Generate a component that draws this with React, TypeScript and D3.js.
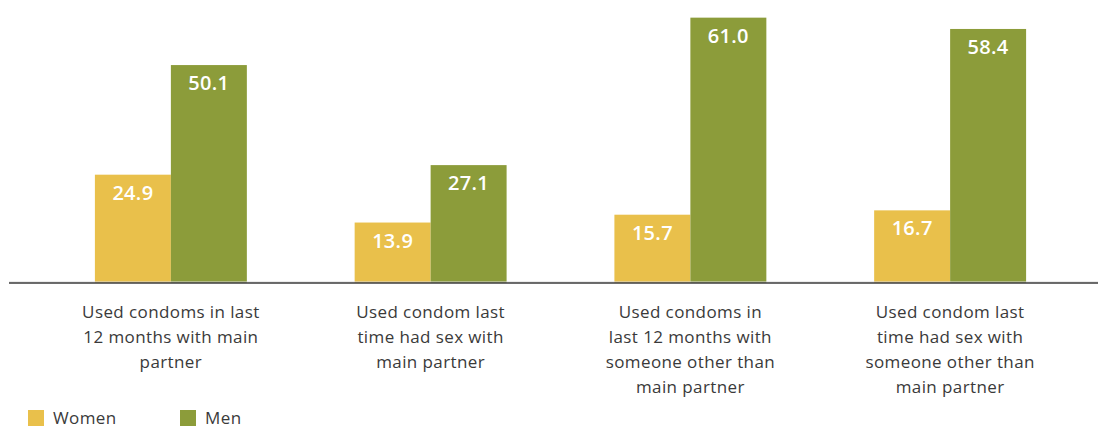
import * as d3 from "d3";

const categories = [
  ["Used condoms in last", "12 months with main", "partner"],
  ["Used condom last", "time had sex with", "main partner"],
  ["Used condoms in", "last 12 months with", "someone other than", "main partner"],
  ["Used condom last", "time had sex with", "someone other than", "main partner"],
];
const women = [24.9, 13.9, 15.7, 16.7];
const men = [50.1, 27.1, 61.0, 58.4];
const seriesNames = ["Women", "Men"];

const WIDTH = 1099;
const HEIGHT = 428;
const BASELINE = 283;
const COLORS = ["#E9C04B", "#8C9C3A"];
const FONT = "'Open Sans', Lato, sans-serif";

export default function App() {
  const x = d3
    .scaleBand<number>()
    .domain(d3.range(categories.length))
    .range([41, 1080])
    .paddingInner(0.415)
    .paddingOuter(0.2075);
  const inner = d3.scaleBand<number>().domain([0, 1]).range([0, x.bandwidth()]);
  const y = d3.scaleLinear().domain([0, 65]).range([BASELINE, BASELINE - 65 * 4.35]);

  const data = categories.map((_, i) => [women[i], men[i]]);

  return (
    <svg
      width={WIDTH}
      height={HEIGHT}
      style={{ position: "absolute", left: 0, top: 0, background: "#fff" }}
      fontFamily={FONT}
    >
      {data.map((vals, i) => (
        <g key={i} transform={`translate(${x(i)},0)`}>
          {vals.map((v, s) => (
            <g key={s}>
              <rect
                x={inner(s)}
                y={y(v)}
                width={inner.bandwidth()}
                height={BASELINE - y(v)}
                fill={COLORS[s]}
              />
              <text
                x={(inner(s) ?? 0) + inner.bandwidth() / 2}
                y={y(v) + 25}
                textAnchor="middle"
                fill="#fff"
                fontSize={20}
                fontWeight={600}
                letterSpacing={0.3}
              >
                {v.toFixed(1)}
              </text>
            </g>
          ))}
          {categories[i].map((line, k) => (
            <text
              key={k}
              x={x.bandwidth() / 2}
              y={318 + k * 25}
              textAnchor="middle"
              fill="#3a3a3a"
              fontSize={17}
              letterSpacing={0.4}
            >
              {line}
            </text>
          ))}
        </g>
      ))}
      <line x1={9} x2={1098} y1={BASELINE - 1} y2={BASELINE - 1} stroke="#d8d8d8" strokeWidth={1} />
      <line x1={9} x2={1098} y1={BASELINE} y2={BASELINE} stroke="#3d3d3d" strokeWidth={1.5} />
      {seriesNames.map((name, s) => (
        <g key={name} transform={`translate(${28 + s * 152},410)`}>
          <rect width={16} height={16} fill={COLORS[s]} />
          <text x={25} y={14} fontSize={17} fill="#3a3a3a" letterSpacing={0.4}>
            {name}
          </text>
        </g>
      ))}
    </svg>
  );
}
